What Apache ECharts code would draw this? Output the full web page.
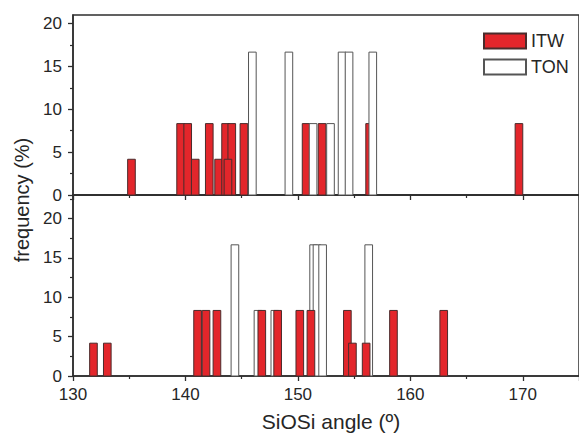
<!DOCTYPE html>
<html>
<head>
<meta charset="utf-8">
<script src="https://cdn.jsdelivr.net/npm/echarts@6/dist/echarts.min.js"></script>
<style>
  html, body { margin: 0; padding: 0; background: #fff; }
  #chart { width: 579px; height: 437px; }
</style>
</head>
<body>
<div id="chart"></div>
<script>
// SiOSi angle distributions (upper and lower panel), frequency in %
const itwTopAngle = [135.2, 139.57, 140.2, 140.87, 142.12, 142.95, 143.57, 144.12, 143.78, 145.2, 150.73, 152.15, 156.38, 169.66];
const itwTopFreq  = [4.17, 8.33, 8.33, 4.17, 8.33, 4.17, 8.33, 8.33, 4.17, 8.33, 8.33, 8.33, 8.33, 8.33];
const tonTopAngle = [145.95, 149.2, 151.35, 152.9, 153.93, 154.55, 156.66];
const tonTopFreq  = [16.67, 16.67, 8.33, 8.33, 16.67, 16.67, 16.67];

const itwBottomAngle = [131.82, 133.05, 141.08, 141.83, 142.8, 146.79, 148.2, 150.17, 151.16, 154.4, 154.85, 156.07, 158.5, 162.97];
const itwBottomFreq  = [4.17, 4.17, 8.33, 8.33, 8.33, 8.33, 8.33, 8.33, 8.33, 8.33, 4.17, 4.17, 8.33, 8.33];
const tonBottomAngle = [144.4, 146.45, 147.95, 151.4, 151.7, 152.2, 156.3];
const tonBottomFreq  = [16.67, 8.33, 8.33, 16.67, 16.67, 16.67, 16.67];

const xTickLabels = [130, 140, 150, 160, 170];
const yTickLabels = [0, 5, 10, 15, 20];
const yMinorTop = [2.5, 7.5, 12.5, 17.5];
const yMinorBottom = [2.5, 7.5, 12.5, 17.5, 22.5];

const BAR_W = 0.68;           // bin width in degrees
const RED = '#e3262b';
const RED_EDGE = '#4a2c2c';
const WHITE_EDGE = '#555';
const AXIS = '#2e2e2e';
const TEXT = '#262626';
const FONT = 'Liberation Sans, Arial, sans-serif';

const pairs = (xs, ys) => xs.map((x, i) => [x, ys[i]]);

function barRenderer(fill, stroke) {
  return function (params, api) {
    const x = api.value(0), y = api.value(1);
    const p0 = api.coord([x - BAR_W / 2, y]);
    const p1 = api.coord([x + BAR_W / 2, 0]);
    return {
      type: 'rect',
      shape: { x: p0[0], y: p0[1], width: p1[0] - p0[0], height: p1[1] - p0[1] },
      style: { fill: fill, stroke: stroke, lineWidth: 1 }
    };
  };
}

const axisLine = { show: true, lineStyle: { color: AXIS, width: 1.5 } };

function xAxisFor(grid, withLabels) {
  return {
    type: 'value', gridIndex: grid, min: 130, max: 175, interval: 10,
    axisLine: axisLine,
    axisTick: { show: true, length: 5, lineStyle: { color: AXIS, width: 1.3 } },
    minorTick: { show: true, splitNumber: 2, length: 3, lineStyle: { color: AXIS, width: 1.2 } },
    axisLabel: withLabels
      ? { show: true, customValues: xTickLabels, margin: 10, color: TEXT, fontSize: 17, fontFamily: FONT }
      : { show: false },
    splitLine: { show: false }
  };
}

function yAxisFor(grid, max) {
  return {
    type: 'value', gridIndex: grid, min: 0, max: max,
    axisLine: axisLine,
    axisTick: { show: true, customValues: yTickLabels, length: 5, lineStyle: { color: AXIS, width: 1.3 } },
    axisLabel: { show: true, customValues: yTickLabels, margin: 11, color: TEXT, fontSize: 17, fontFamily: FONT },
    splitLine: { show: false }
  };
}

function yMinorFor(grid, max, values) {
  return {
    type: 'value', gridIndex: grid, min: 0, max: max, position: 'left',
    axisLine: { show: false },
    axisTick: { show: true, customValues: values, length: 3, lineStyle: { color: AXIS, width: 1.2 } },
    axisLabel: { show: false },
    splitLine: { show: false }
  };
}

const chart = echarts.init(document.getElementById('chart'), null, { renderer: 'svg' });

chart.setOption({
  animation: false,
  backgroundColor: '#fff',
  grid: [
    { left: 73, right: -10, top: 15, height: 180, show: true, borderColor: AXIS, borderWidth: 1.5 },
    { left: 73, right: -10, top: 195, height: 181, show: true, borderColor: AXIS, borderWidth: 1.5 }
  ],
  xAxis: [xAxisFor(0, false), xAxisFor(1, true)],
  yAxis: [
    yAxisFor(0, 21), yAxisFor(1, 23),
    yMinorFor(0, 21, yMinorTop), yMinorFor(1, 23, yMinorBottom)
  ],
  legend: {
    orient: 'vertical', left: 483, top: 32, padding: 0,
    itemWidth: 42, itemHeight: 15, itemGap: 8,
    data: ['ITW', 'TON'],
    icon: 'rect',
    textStyle: { fontSize: 18, color: TEXT, fontFamily: FONT }
  },
  graphic: [
    {
      type: 'text', x: 22, y: 200, rotation: Math.PI / 2,
      style: { text: 'frequency (%)', fontSize: 20, fontFamily: FONT, fill: TEXT, align: 'center', verticalAlign: 'middle' }
    },
    {
      type: 'text', x: 331, y: 421,
      style: { text: 'SiOSi angle (º)', fontSize: 21, fontFamily: FONT, fill: TEXT, align: 'center', verticalAlign: 'middle' }
    }
  ],
  series: [
    // upper panel: TON drawn over ITW
    {
      name: 'ITW', type: 'custom', xAxisIndex: 0, yAxisIndex: 0, z: 2,
      itemStyle: { color: RED, borderColor: RED_EDGE, borderWidth: 1 },
      renderItem: barRenderer(RED, RED_EDGE),
      data: pairs(itwTopAngle, itwTopFreq)
    },
    {
      name: 'TON', type: 'custom', xAxisIndex: 0, yAxisIndex: 0, z: 3,
      itemStyle: { color: '#fff', borderColor: WHITE_EDGE, borderWidth: 1 },
      renderItem: barRenderer('#fff', WHITE_EDGE),
      data: pairs(tonTopAngle, tonTopFreq)
    },
    // lower panel: ITW drawn over TON
    {
      name: 'TON', type: 'custom', xAxisIndex: 1, yAxisIndex: 1, z: 2,
      itemStyle: { color: '#fff', borderColor: WHITE_EDGE, borderWidth: 1 },
      renderItem: barRenderer('#fff', WHITE_EDGE),
      data: pairs(tonBottomAngle, tonBottomFreq)
    },
    {
      name: 'ITW', type: 'custom', xAxisIndex: 1, yAxisIndex: 1, z: 3,
      itemStyle: { color: RED, borderColor: RED_EDGE, borderWidth: 1 },
      renderItem: barRenderer(RED, RED_EDGE),
      data: pairs(itwBottomAngle, itwBottomFreq)
    }
  ]
});
</script>
</body>
</html>
